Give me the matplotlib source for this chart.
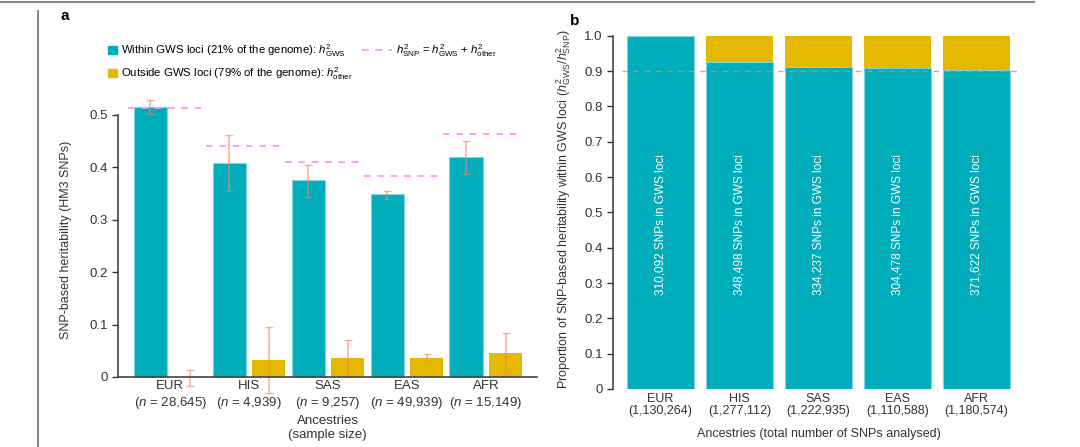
import matplotlib.pyplot as plt
import matplotlib.lines as mlines
import matplotlib.patches as mpatches
from matplotlib.legend_handler import HandlerPatch
import numpy as np

plt.rcParams['font.family'] = ['Liberation Sans', 'DejaVu Sans']
plt.rcParams['mathtext.fontset'] = 'custom'
plt.rcParams['mathtext.rm'] = 'Liberation Sans'
plt.rcParams['mathtext.it'] = 'Liberation Sans:italic'

ancestries = ["EUR", "HIS", "SAS", "EAS", "AFR"]
sample_sizes = ["28,645", "4,939", "9,257", "49,939", "15,149"]
total_snps = ["1,130,264", "1,277,112", "1,222,935", "1,110,588", "1,180,574"]
gws_snps = ["310,092", "348,498", "334,237", "304,478", "371,622"]

# panel a values
h2_gws = [0.515, 0.408, 0.375, 0.349, 0.419]
h2_gws_lo = [0.502, 0.355, 0.344, 0.3405, 0.387]
h2_gws_hi = [0.528, 0.461, 0.404, 0.355, 0.451]
h2_other = [-0.001, 0.033, 0.036, 0.036, 0.046]
h2_other_lo = [-0.017, -0.030, 0.0, 0.030, 0.006]
h2_other_hi = [0.014, 0.095, 0.071, 0.043, 0.084]
h2_snp = [0.513, 0.441, 0.410, 0.384, 0.464]

# panel b values
prop_gws = [1.0, 0.927, 0.912, 0.9075, 0.903]

teal = "#00adba"
gold = "#e5b900"
err_col = "#ff8060"
pink = "#ff90f5"
txt = "#333333"


def small_square(legend, orig_handle, xdescent, ydescent, width, height, fontsize):
    # square handle sitting at the right end of the handle box, next to the text
    return mpatches.Rectangle((width - height - xdescent, -ydescent), height, height)


fig = plt.figure(figsize=(10.8, 4.47), dpi=100)

# page decorations
fig.add_artist(mlines.Line2D([0, 0.957], [0.996, 0.996], color="#888888", lw=1.5))
fig.add_artist(mlines.Line2D([0.035, 0.035], [0, 0.975], color="#888888", lw=1.5))

# ---------- panel a ----------
ax = fig.add_axes([0.1093, 0.1157, 0.388, 0.6975])
x = np.arange(len(ancestries))
w = 0.42
off = 0.25
ax.bar(x - off, h2_gws, w, color=teal, edgecolor="#7fd6dc", linewidth=0.8)
ax.bar(x + off, h2_other, w, color=gold, linewidth=0)
ax.errorbar(x - off, h2_gws,
            yerr=[np.array(h2_gws) - np.array(h2_gws_lo), np.array(h2_gws_hi) - np.array(h2_gws)],
            fmt="none", ecolor=err_col, alpha=0.6, elinewidth=1.2, capsize=3)
ax.errorbar(x + off, h2_other,
            yerr=[np.array(h2_other) - np.array(h2_other_lo), np.array(h2_other_hi) - np.array(h2_other)],
            fmt="none", ecolor=err_col, alpha=0.6, elinewidth=1.2, capsize=3)
ax.hlines(h2_snp, x - 0.54, x + 0.46, colors=pink, linestyles=(0, (4, 4)), lw=1.2)

ax.set_xlim(-0.66, 4.65)
ax.set_ylim(-0.035, 0.56)
ax.spines['top'].set_visible(False)
ax.spines['right'].set_visible(False)
ax.spines['bottom'].set_position(('data', 0))
ax.spines['left'].set_bounds(0, 0.5)
for s in ['left', 'bottom']:
    ax.spines[s].set_color("#444444")
    ax.spines[s].set_linewidth(1.2)
ax.set_yticks([0, 0.1, 0.2, 0.3, 0.4, 0.5])
ax.set_yticklabels(["0", "0.1", "0.2", "0.3", "0.4", "0.5"])
ax.tick_params(axis='y', labelsize=9.5, colors=txt, length=4, width=1)
ax.set_xticks(x)
ax.set_xticklabels([f"{a}\n($\\it{{n}}$ = {n})" for a, n in zip(ancestries, sample_sizes)],
                   linespacing=1.3)
ax.tick_params(axis='x', length=0, labelsize=9.5, colors=txt, pad=2)
ax.set_ylabel("SNP-based heritability (HM3 SNPs)", fontsize=9, color=txt, labelpad=12)
ax.set_xlabel("Ancestries\n(sample size)", fontsize=9.5, color=txt, labelpad=3, linespacing=1.2)

handles = [
    mpatches.Patch(color=teal, label="Within GWS loci (21% of the genome): $\\it{h}^2_{\\rm GWS}$"),
    mpatches.Patch(color=gold, label="Outside GWS loci (79% of the genome): $\\it{h}^2_{\\rm other}$"),
    mlines.Line2D([], [], color=pink, ls=(0, (4, 4)), lw=1.2,
                  label="$\\it{h}^2_{\\rm SNP}$ = $\\it{h}^2_{\\rm GWS}$ + $\\it{h}^2_{\\rm other}$"),
]
fig.legend(handles=handles, loc="upper left", bbox_to_anchor=(0.071, 0.928), ncol=2,
           frameon=False, fontsize=8.2, handlelength=2.6, handleheight=0.75,
           columnspacing=0.8, handletextpad=0.4, labelspacing=0.5,
           handler_map={mpatches.Patch: HandlerPatch(patch_func=small_square)})

fig.text(0.056, 0.955, "a", fontsize=11, fontweight="bold")

# ---------- panel b ----------
bx = fig.add_axes([0.5676, 0.1298, 0.3804, 0.806])
bw = 0.845
bx.bar(x, prop_gws, bw, color=teal, edgecolor="#7fd6dc", linewidth=0.8)
bx.bar(x, 1 - np.array(prop_gws), bw, bottom=prop_gws, color=gold, linewidth=0)
bx.hlines(0.9, -0.49, 4.57, colors="#f08080", linestyles=(0, (4, 4)), lw=1.0, alpha=0.8)
for xi, s in zip(x, gws_snps):
    bx.text(xi, 0.466, f"{s} SNPs in GWS loci", rotation=90, ha="center", va="center",
            color="white", fontsize=8.5)

bx.set_xlim(-0.6, 4.6)
bx.set_ylim(0, 1.02)
bx.spines['top'].set_visible(False)
bx.spines['right'].set_visible(False)
bx.spines['bottom'].set_visible(False)
bx.spines['left'].set_bounds(0, 1.0)
bx.spines['left'].set_color("#444444")
bx.spines['left'].set_linewidth(1.2)
bx.set_yticks(np.arange(0, 1.01, 0.1))
bx.set_yticklabels(["0"] + [f"{v:.1f}" for v in np.arange(0.1, 1.01, 0.1)])
bx.tick_params(axis='y', labelsize=9.5, colors=txt, length=4, width=1)
bx.set_xticks(x)
bx.set_xticklabels([f"{a}\n({n})" for a, n in zip(ancestries, total_snps)], linespacing=1.0)
bx.tick_params(axis='x', length=0, labelsize=9, colors=txt, pad=3)
bx.set_ylabel("Proportion of SNP-based heritability within GWS loci ($\\it{h}^2_{\\rm GWS}$/$\\it{h}^2_{\\rm SNP}$)",
              fontsize=9, color=txt, labelpad=8)
bx.set_xlabel("Ancestries (total number of SNPs analysed)", fontsize=9, color=txt, labelpad=8)

fig.text(0.528, 0.945, "b", fontsize=11, fontweight="bold")

fig.savefig("out.png", dpi=100)
